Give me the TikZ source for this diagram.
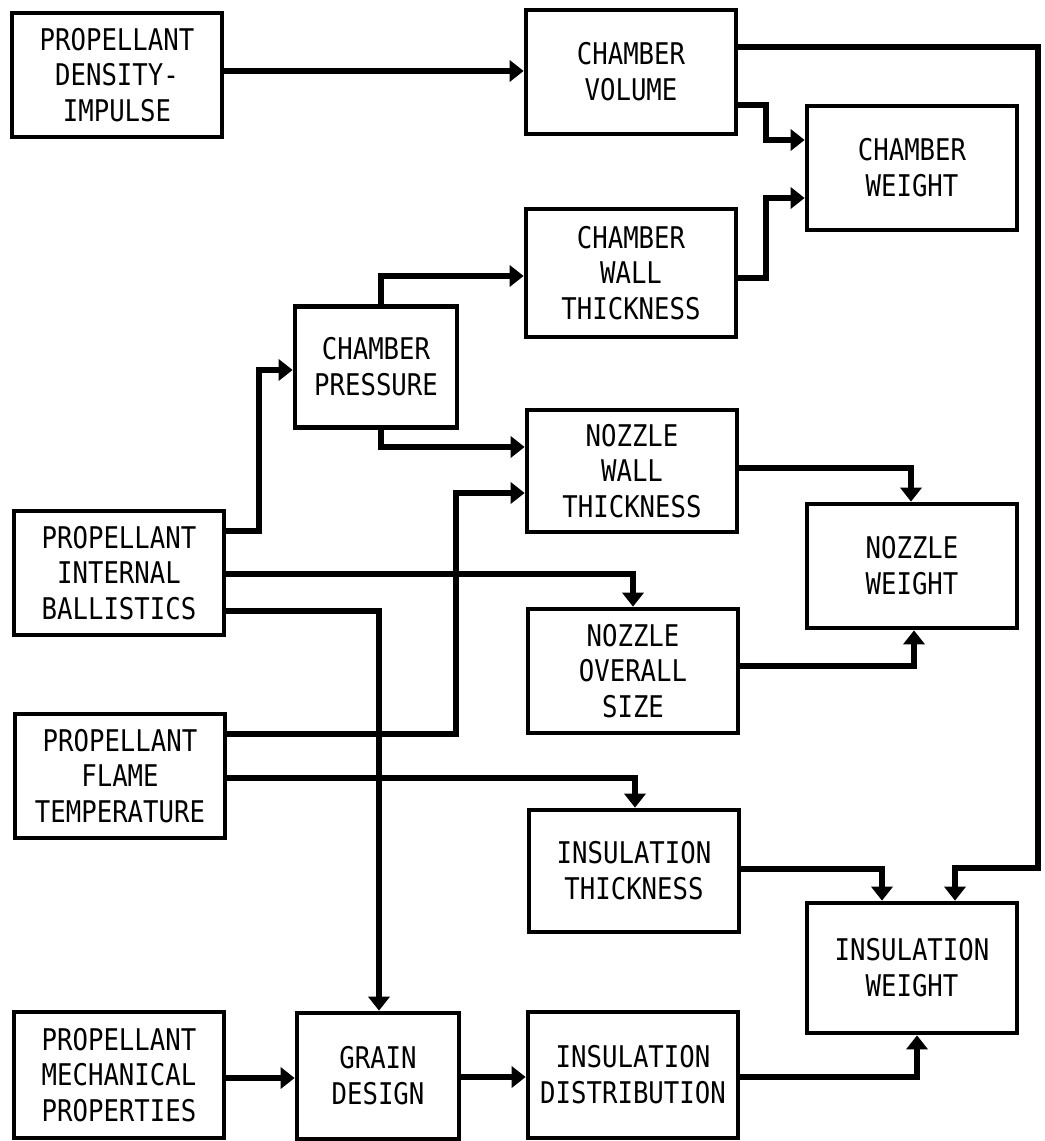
\documentclass[tikz,border=0pt]{standalone}
\usepackage{fontspec}
\setmainfont{DejaVu Sans Mono}[FakeStretch=0.86]
\usetikzlibrary{arrows.meta}

\begin{document}
\begin{tikzpicture}[x=0.02cm,y=-0.02cm,->,>={Triangle[length=8pt,width=12pt]},line width=3.6pt]
\tikzstyle{blk}=[draw,line width=2.7pt,align=center,inner sep=0pt,font=\fontsize{17}{20.4}\selectfont,minimum width=4.2cm,minimum height=2.48cm]
\tikzstyle{sq}=[blk,minimum width=3.24cm]
\useasboundingbox (0,0) rectangle (1044,1141);
\node[blk] (pdi) at (117,75) {PROPELLANT\\DENSITY-\\IMPULSE};
\node[blk] (cv) at (631,72) {CHAMBER\\VOLUME};
\node[blk] (cw) at (912,168) {CHAMBER\\WEIGHT};
\node[blk,minimum height=2.56cm] (cwt) at (631,273) {CHAMBER\\WALL\\THICKNESS};
\node[sq,minimum height=2.42cm] (cp) at (376,367) {CHAMBER\\PRESSURE};
\node[blk,minimum height=2.44cm] (nwt) at (632,471) {NOZZLE\\WALL\\THICKNESS};
\node[blk] (nw) at (912,566) {NOZZLE\\WEIGHT};
\node[blk] (pib) at (119,573) {PROPELLANT\\INTERNAL\\BALLISTICS};
\node[blk] (nos) at (633,671) {NOZZLE\\OVERALL\\SIZE};
\node[blk] (pft) at (120,776) {PROPELLANT\\FLAME\\TEMPERATURE};
\node[blk,minimum height=2.44cm] (it) at (634,871) {INSULATION\\THICKNESS};
\node[blk,minimum height=2.6cm] (iw) at (912,968) {INSULATION\\WEIGHT};
\node[blk,minimum height=2.52cm] (pmp) at (119,1075) {PROPELLANT\\MECHANICAL\\PROPERTIES};
\node[sq,minimum height=2.52cm] (gd) at (378,1076) {GRAIN\\DESIGN};
\node[blk,minimum height=2.52cm] (id) at (633,1075) {INSULATION\\DISTRIBUTION};
\draw (pdi.east |- 0,71) -- (cv.west |- 0,71);
\draw (cv.east |- 0,47) -| (1038,868) -| (iw.north -| 955,0);
\draw (cv.east |- 0,105) -| (766,140) -- (cw.west |- 0,140);
\draw (cwt.east |- 0,278) -| (766,198) -- (cw.west |- 0,198);
\draw (cp.north -| 381,0) |- (cwt.west |- 0,276);
\draw (cp.south -| 381,0) |- (nwt.west |- 0,447);
\draw (pft.east |- 0,734) -| (456,493) -- (nwt.west |- 0,493);
\draw (nwt.east |- 0,468) -| (nw.north -| 911,0);
\draw (pib.east |- 0,531) -| (259,370) -- (cp.west |- 0,370);
\draw (pib.east |- 0,574) -| (nos.north -| 633,0);
\draw (pib.east |- 0,611) -| (gd.north -| 379,0);
\draw (nos.east |- 0,666) -| (nw.south -| 914,0);
\draw (pft.east |- 0,778) -| (it.north -| 635,0);
\draw (it.east |- 0,869) -| (iw.north -| 882,0);
\draw (id.east |- 0,1077) -| (iw.south -| 917,0);
\draw (pmp.east |- 0,1078) -- (gd.west |- 0,1078);
\draw (gd.east |- 0,1077) -- (id.west |- 0,1077);
\end{tikzpicture}
\end{document}
